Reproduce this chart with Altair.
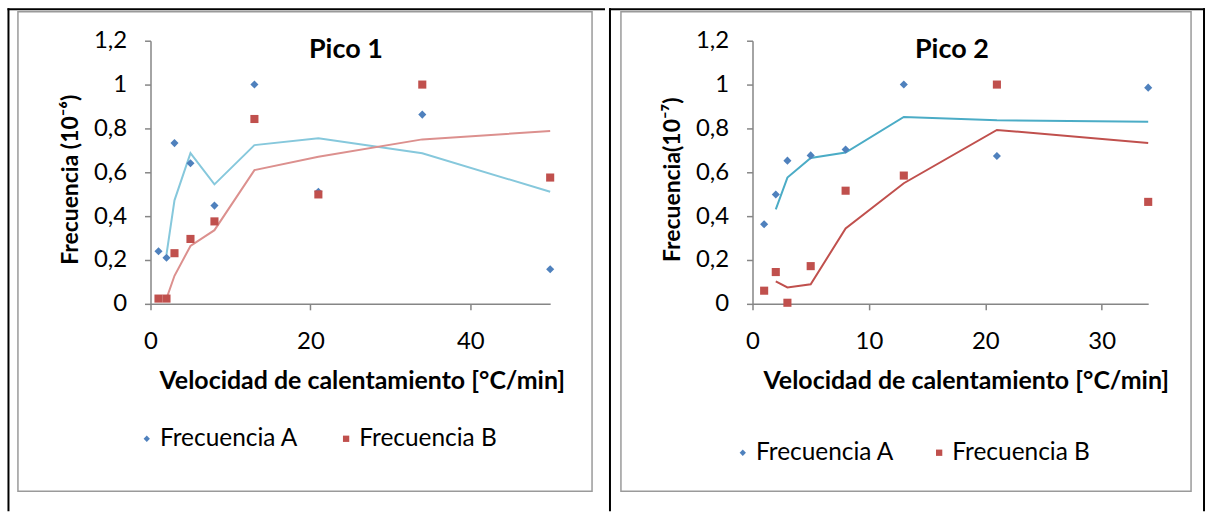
import altair as alt
import pandas as pd

FONT = "Lato"

# ---------------- data ----------------
series_names = ["Frecuencia A", "Frecuencia B"]

# Pico 1
p1_x = [1, 2, 3, 5, 8, 13, 21, 34, 50]
p1_a = [0.24, 0.21, 0.733, 0.641, 0.448, 1.0, 0.511, 0.863, 0.158]
p1_b = [0.024, 0.024, 0.231, 0.296, 0.376, 0.843, 0.499, 1.0, 0.576]
p1_line_x = [2, 3, 5, 8, 13, 21, 34, 50]
p1_line_a = [0.225, 0.472, 0.687, 0.545, 0.724, 0.755, 0.687, 0.511]
p1_line_b = [0.024, 0.128, 0.264, 0.336, 0.61, 0.671, 0.75, 0.788]

# Pico 2
p2_x = [1, 2, 3, 5, 8, 13, 21, 34]
p2_a = [0.363, 0.499, 0.653, 0.677, 0.704, 1.0, 0.674, 0.986]
p2_b = [0.06, 0.145, 0.005, 0.172, 0.516, 0.585, 1.0, 0.465]
p2_line_x = [2, 3, 5, 8, 13, 21, 34]
p2_line_a = [0.431, 0.576, 0.665, 0.69, 0.852, 0.837, 0.83]
p2_line_b = [0.103, 0.075, 0.089, 0.344, 0.55, 0.793, 0.733]

y_ticks = [0, 0.2, 0.4, 0.6, 0.8, 1.0, 1.2]
p1_x_ticks = [0, 20, 40]
p2_x_ticks = [0, 10, 20, 30]

marker_colors = ["#4f81bd", "#c0504d"]
marker_shapes = ["diamond", "square"]

one = pd.DataFrame({"k": [0]})
H = 264


def vrule(x, y1, y2, color="black", w=2):
    return alt.Chart(one).mark_rule(color=color, strokeWidth=w).encode(
        x=alt.value(x), y=alt.value(y1), y2=alt.value(y2))


def hrule(y, x1, x2, color="black", w=2):
    return alt.Chart(one).mark_rule(color=color, strokeWidth=w).encode(
        y=alt.value(y), x=alt.value(x1), x2=alt.value(x2))


def panel(xs, a, b, lx, la, lb, xmax, xticks, width, title, ytitle,
          line_colors, frame, lines, title_x, xtitle_x, legend_x, legend_y, col_pad):
    pts = pd.DataFrame({
        "x": xs + xs,
        "v": a + b,
        "serie": [series_names[0]] * len(xs) + [series_names[1]] * len(xs),
    })
    la_df = pd.DataFrame({"x": lx, "v": la})
    lb_df = pd.DataFrame({"x": lx, "v": lb})

    xscale = alt.Scale(domain=[0, xmax], nice=False, zero=True)
    yscale = alt.Scale(domain=[0, 1.2], nice=False)

    xaxis = alt.Axis(values=xticks, title="Velocidad de calentamiento [°C/min]",
                     labelPadding=20, labelFlush=False, titleFontSize=25,
                     titleX=xtitle_x, titleY=77,
                     titleBaseline="middle", titleAlign="center")
    yaxis = alt.Axis(values=y_ticks, title=ytitle, labelFlush=False,
                     labelExpr="replace(format(datum.value, '.1~f'), '.', ',')",
                     labelPadding=18, titleFontSize=23, titleX=-80, titleY=139,
                     titleAngle=-90, titleBaseline="middle", titleAlign="center")

    fx1, fx2, fy1, fy2 = frame
    frame_layer = alt.Chart(one).mark_rect(
        fill="transparent", stroke="#9a9a9a", strokeWidth=1.5).encode(
        x=alt.value(fx1), x2=alt.value(fx2), y=alt.value(fy1), y2=alt.value(fy2))

    line_a = alt.Chart(la_df).mark_line(strokeWidth=2, color=line_colors[0]).encode(
        x=alt.X("x:Q", scale=xscale, axis=xaxis),
        y=alt.Y("v:Q", scale=yscale, axis=yaxis))
    line_b = alt.Chart(lb_df).mark_line(strokeWidth=2, color=line_colors[1]).encode(
        x="x:Q", y="v:Q")

    points = alt.Chart(pts).mark_point(filled=True, size=66, opacity=1).encode(
        x="x:Q", y="v:Q",
        color=alt.Color("serie:N", title=None,
                        scale=alt.Scale(domain=series_names, range=marker_colors),
                        legend=alt.Legend(orient="none", legendX=legend_x, legendY=legend_y,
                                          direction="horizontal", labelFont=FONT,
                                          labelFontSize=24.5, labelColor="black",
                                          symbolSize=40, labelOffset=1, padding=0,
                                          columnPadding=col_pad, symbolStrokeWidth=0)),
        shape=alt.Shape("serie:N", title=None,
                        scale=alt.Scale(domain=series_names, range=marker_shapes)),
    )

    title_layer = alt.Chart(one).mark_text(
        text=title, font=FONT, fontSize=27, fontWeight="bold", color="black",
        align="center", baseline="middle").encode(
        x=alt.value(title_x), y=alt.value(9))

    layers = [frame_layer] + lines + [line_a, line_b, points, title_layer]
    return alt.layer(*layers).properties(width=width, height=H)


left = panel(p1_x, p1_a, p1_b, p1_line_x, p1_line_a, p1_line_b, 50, p1_x_ticks, 401,
             "Pico 1", "Frecuencia (10⁻⁶)", ["#86c8dc", "#dc908e"],
             (-133, 443, -29, 452),
             [vrule(-142.5, -32.5, 472), hrule(-31.5, -143.5, 456)],
             196, 212, -16, 387, 35)

right = panel(p2_x, p2_a, p2_b, p2_line_x, p2_line_a, p2_line_b, 34, p2_x_ticks, 397,
              "Pico 2", "Frecuencia(10⁻⁷)", ["#4bacc6", "#c0504d"],
              (-132, 440, -29, 452),
              [vrule(-143, -32.5, 472), hrule(-31.5, -144, 454), vrule(453, -32.5, 472)],
              200, 214, -22, 401, 32)

chart = alt.hconcat(left, right, spacing=0).resolve_scale(
    color="independent", shape="independent", x="independent", y="independent"
).resolve_legend(
    color="independent", shape="independent"
).properties(
    padding={"left": 6, "top": 6, "right": 0, "bottom": 0},
    background="white",
).configure_view(stroke="transparent").configure_axis(
    grid=False, domainColor="#868686", tickColor="#868686", domainWidth=1.5,
    tickWidth=1.5, tickSize=6, labelFont=FONT, labelFontSize=24, labelColor="black",
    titleFont=FONT, titleFontWeight="bold", titleColor="black",
)

chart.save("out.html", embed_options={"renderer": "svg", "actions": False})
